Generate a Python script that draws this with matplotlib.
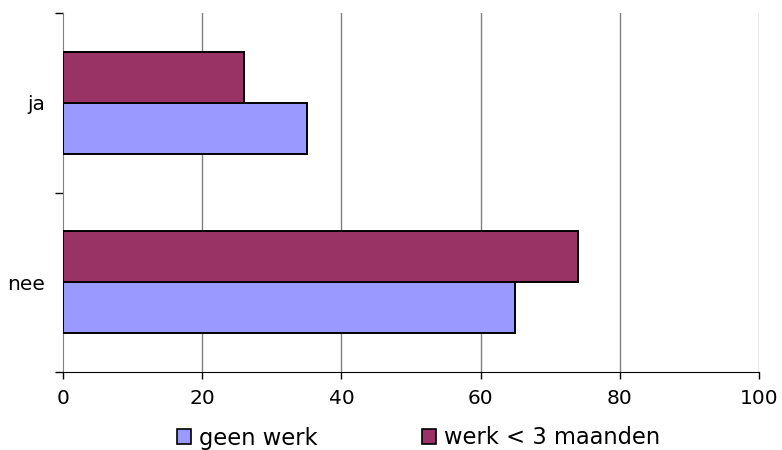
import numpy as np
from matplotlib import pyplot as plt
from matplotlib.patches import Patch

categories = ['nee', 'ja']
geen_werk = [65, 35]
werk_3m = [74, 26]
series_names = ['geen werk', 'werk < 3 maanden']
colors = ['#9999FF', '#993366']

plt.rcParams['font.family'] = ['DejaVu Sans']

fig = plt.figure(figsize=(7.82, 4.5), dpi=100)
ax = fig.add_axes([63/782, 1 - 372/450, 696/782, 359/450])

y = np.arange(len(categories))
h = 0.283
ax.barh(y - h/2, geen_werk, height=h, color=colors[0], edgecolor='black', linewidth=1.4, zorder=3)
ax.barh(y + h/2, werk_3m, height=h, color=colors[1], edgecolor='black', linewidth=1.4, zorder=3)

ax.set_xlim(0, 100)
ax.set_ylim(-0.5, 1.5)
ax.set_xticks([0, 20, 40, 60, 80, 100])
ax.tick_params(axis='x', labelsize=14.5, length=5, pad=7, width=1, color='black')
for xv in [20, 40, 60, 80, 100]:
    ax.axvline(xv, color='#808080', linewidth=1, zorder=1)

# ticks at category boundaries, labels at centres
ax.set_yticks([-0.5, 0.5, 1.5])
ax.set_yticklabels([])
ax.tick_params(axis='y', which='major', length=6, width=1, color='black')
ax.set_yticks(y, minor=True)
ax.set_yticklabels(categories, minor=True)
ax.tick_params(axis='y', which='minor', length=0, pad=13, labelsize=14.5)

for s in ['top', 'right']:
    ax.spines[s].set_visible(False)
ax.spines['left'].set_color('#808080')
ax.spines['bottom'].set_color('black')

handles = [Patch(facecolor=c, edgecolor='black', linewidth=1.2) for c in colors]
fig.legend(handles, series_names, loc='center', bbox_to_anchor=(0.535, 1 - 438/450),
           ncol=2, frameon=False, fontsize=16.3, handlelength=0.62, handleheight=0.62,
           handletextpad=0.35, columnspacing=4.6, borderaxespad=0)

fig.savefig('out.png', dpi=100)
